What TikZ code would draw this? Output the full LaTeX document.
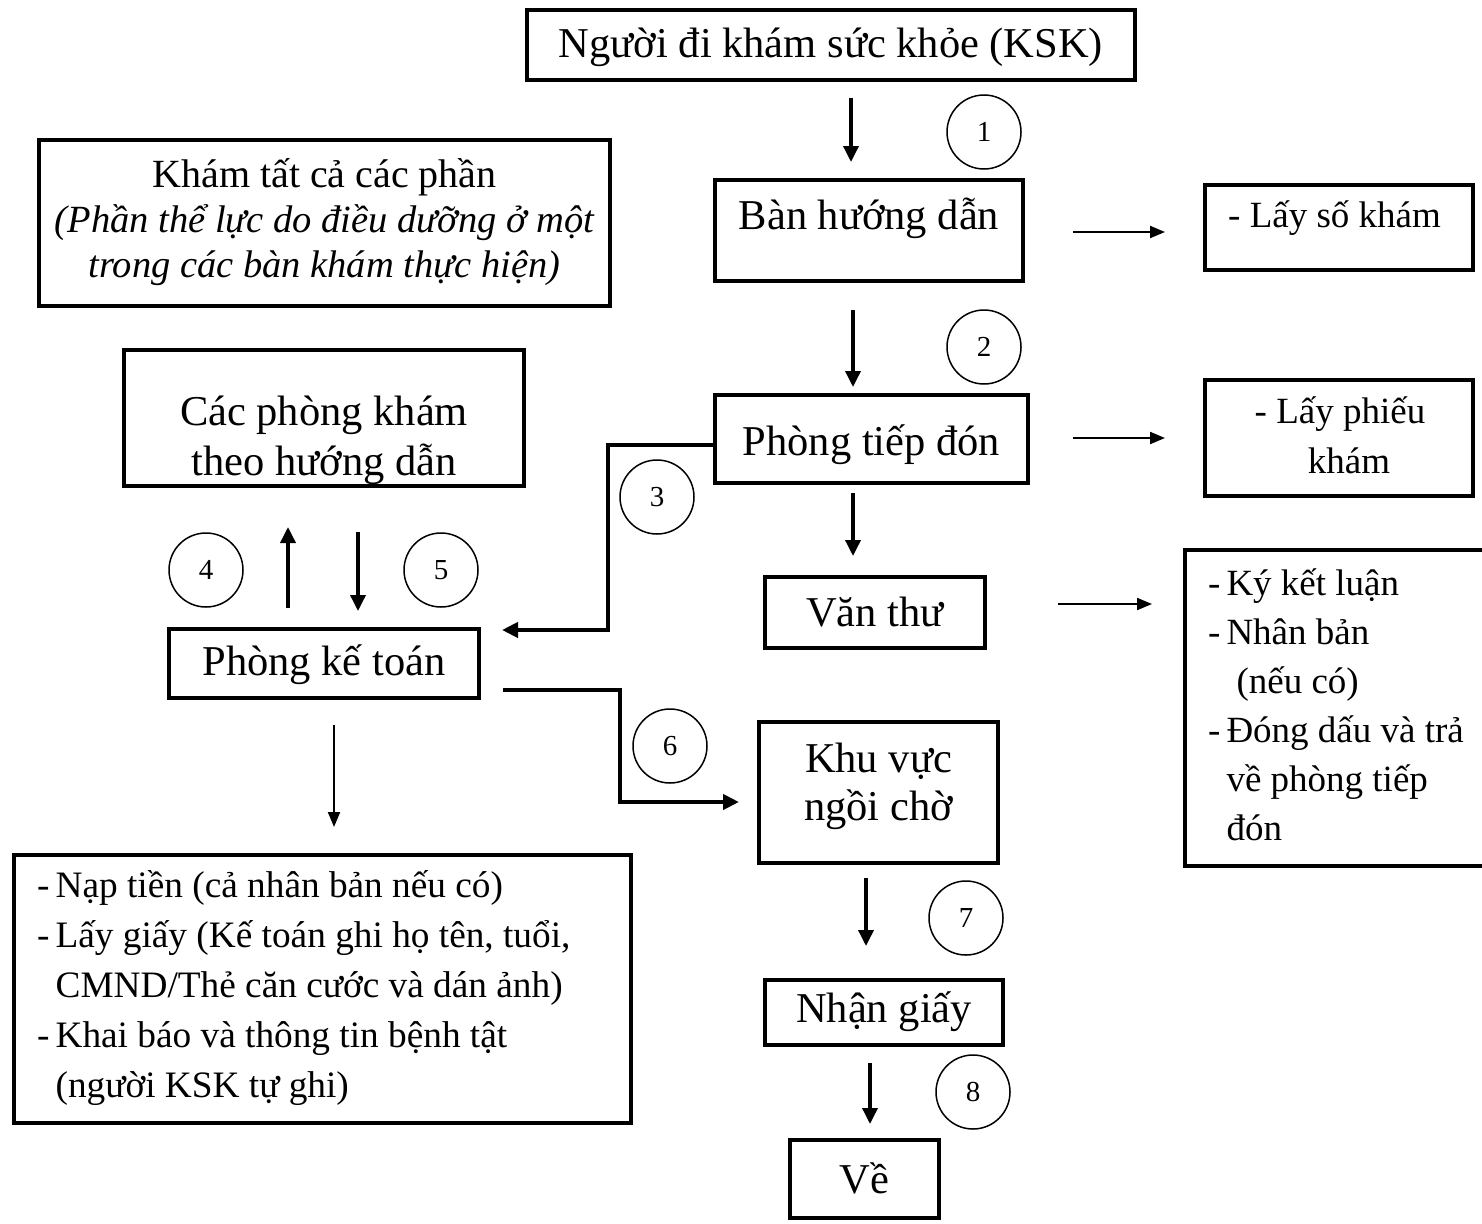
\documentclass[tikz,border=0pt]{standalone}
\usepackage{fontspec}
\setmainfont{Liberation Serif}
\usetikzlibrary{arrows.meta}
\begin{document}
\begin{tikzpicture}[x=1pt,y=-1pt,
 box/.style={draw, line width=4pt, inner sep=0pt},
 txt/.style={font=\fontsize{42.5}{48}\selectfont, inner sep=0pt, align=center},
 lst/.style={font=\fontsize{37.3}{50}\selectfont, inner sep=0pt, anchor=north west, align=left},
 num/.style={draw, circle, line width=1.5pt, minimum size=74pt, inner sep=0pt, font=\fontsize{29}{32}\selectfont},
 thk/.style={line width=3.5pt, -{Triangle[length=16pt,width=15pt]}},
 thn/.style={line width=2pt, -{Triangle[length=15pt,width=12pt]}},
 conn/.style={line width=4pt, -{Triangle[length=16pt,width=15pt]}},
]
\useasboundingbox (0,0) rectangle (1482,1223);
% boxes
\node[box, minimum width=608pt, minimum height=70pt] (top) at (831,45) {};
\node[box, minimum width=571pt, minimum height=166pt] (kham) at (324.5,223) {};
\node[box, minimum width=308pt, minimum height=101pt] (bhd) at (869,230.5) {};
\node[box, minimum width=268pt, minimum height=85pt] (lsk) at (1339,227.5) {};
\node[box, minimum width=400pt, minimum height=136pt] (cpk) at (324,418) {};
\node[box, minimum width=313pt, minimum height=88pt] (ptd) at (871.5,439) {};
\node[box, minimum width=268pt, minimum height=116pt] (lpk) at (1339,438) {};
\node[box, minimum width=220pt, minimum height=71pt] (vt) at (875,612.5) {};
\node[box, minimum width=305pt, minimum height=316pt] (kkl) at (1337.5,708) {};
\node[box, minimum width=310pt, minimum height=69pt] (pkt) at (324,663.5) {};
\node[box, minimum width=239pt, minimum height=141pt] (kvnc) at (878.5,792.5) {};
\node[box, minimum width=617pt, minimum height=268pt] (nt) at (322.5,989) {};
\node[box, minimum width=238pt, minimum height=65pt] (ng) at (884,1012.5) {};
\node[box, minimum width=149pt, minimum height=78pt] (ve) at (864.5,1179) {};
% texts
\node[txt, font=\fontsize{42.5}{48}\selectfont] (topT) at (831,47) {Người đi khám sức khỏe (KSK)};
\node[txt, font=\fontsize{40}{45}\selectfont] (khamT) at (324.5,222) {Khám tất cả các phần\\\fontsize{38.5}{45}\selectfont\itshape (Phần thể lực do điều dưỡng ở một\\\fontsize{38.5}{45}\selectfont\itshape trong các bàn khám thực hiện)};
\node[txt] (bhdT) at (869,218) {Bàn hướng dẫn};
\node[txt, font=\fontsize{37}{50}\selectfont, anchor=west] (lskT) at (1228,218) {- Lấy số khám};
\node[txt] (cpkT) at (324,440) {Các phòng khám\\[2pt]theo hướng dẫn};
\node[txt] (ptdT) at (871.5,445) {Phòng tiếp đón};
\node[txt, font=\fontsize{37}{50}\selectfont] (lpkT) at (1340,435) {- Lấy phiếu\\\hspace*{18pt}khám};
\node[txt] (vtT) at (875,612) {Văn thư};
\node[lst, font=\fontsize{37}{49}\selectfont] (kklT) at (1208,561) {\begin{tabular}{@{}l@{\hspace{6pt}}l@{}}-&Ký kết luận\\-&Nhân bản\\&\hspace*{10pt}(nếu có)\\-&Đóng dấu và trả\\&về phòng tiếp\\&đón\end{tabular}};
\node[txt] (pktT) at (324,665) {Phòng kế toán};
\node[txt] (kvncT) at (878.5,786) {Khu vực\\ngồi chờ};
\node[lst] (ntT) at (37,862) {\begin{tabular}{@{}l@{\hspace{6pt}}l@{}}-&Nạp tiền (cả nhân bản nếu có)\\-&Lấy giấy (Kế toán ghi họ tên, tuổi,\\&CMND/Thẻ căn cước và dán ảnh)\\-&Khai báo và thông tin bệnh tật\\&(người KSK tự ghi)\end{tabular}};
\node[txt] (ngT) at (884,1012) {Nhận giấy};
\node[txt] (veT) at (864.5,1178) {Về};
% circles
\node[num] (n1) at (984,132) {1};
\node[num] (n2) at (984,347) {2};
\node[num] (n3) at (657,497) {3};
\node[num] (n4) at (206,570) {4};
\node[num] (n5) at (441,570) {5};
\node[num] (n6) at (670,746) {6};
\node[num] (n7) at (966,918) {7};
\node[num] (n8) at (973,1092) {8};
% arrow end points
\coordinate (a1s) at (851,98);   \coordinate (a1e) at (851,162);
\coordinate (a2s) at (853,310);  \coordinate (a2e) at (853,387);
\coordinate (a3s) at (853,493);  \coordinate (a3e) at (853,556);
\coordinate (a4s) at (288,608);  \coordinate (a4e) at (288,527);
\coordinate (a5s) at (358,532);  \coordinate (a5e) at (358,611);
\coordinate (a7s) at (866,878);  \coordinate (a7e) at (866,946);
\coordinate (a8s) at (870,1063); \coordinate (a8e) at (870,1124);
\coordinate (r1s) at (1073,232); \coordinate (r1e) at (1165,232);
\coordinate (r2s) at (1073,438); \coordinate (r2e) at (1165,438);
\coordinate (r3s) at (1058,604); \coordinate (r3e) at (1152,604);
\coordinate (d1s) at (334,725);  \coordinate (d1e) at (334,827);
\coordinate (c3m) at (608,630);  \coordinate (c3e) at (502,630);
\coordinate (c6s) at (503,690);  \coordinate (c6m) at (620,802); \coordinate (c6e) at (739,802);
% arrows
\draw[thk] (a1s) -- (a1e);
\draw[thk] (a2s) -- (a2e);
\draw[thk] (a3s) -- (a3e);
\draw[thk] (a4s) -- (a4e);
\draw[thk] (a5s) -- (a5e);
\draw[thk] (a7s) -- (a7e);
\draw[thk] (a8s) -- (a8e);
\draw[thn] (r1s) -- (r1e);
\draw[thn] (r2s) -- (r2e);
\draw[thn] (r3s) -- (r3e);
\draw[thn] (d1s) -- (d1e);
\draw[conn] ([yshift=-6pt]ptd.west) -| (c3m) -- (c3e);
\draw[conn] (c6s) -| (c6m) -- (c6e);
\end{tikzpicture}
\end{document}
